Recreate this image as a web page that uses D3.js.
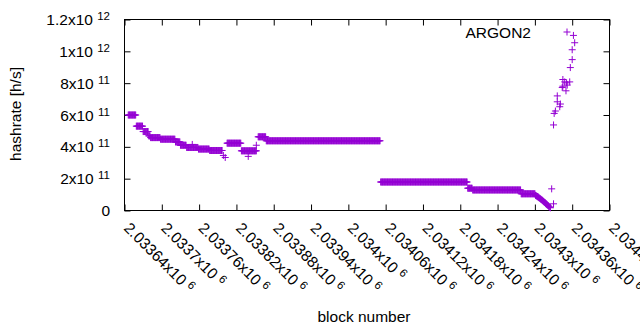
<!DOCTYPE html>
<html><head><meta charset="utf-8">
<script src="https://cdn.jsdelivr.net/npm/d3@7"></script>
<style>
html,body{margin:0;padding:0;background:#fff;}
svg{display:block;font-family:"Liberation Sans",Arial,sans-serif;}
</style></head>
<body><svg id="c" width="640" height="330"></svg>
<script>
// ---- data (block numbers, hashrate in h/s) ----
// runs of consecutive blocks sharing (approximately) the same hashrate
const runStart = [2033646, 2033659, 2033670, 2033679, 2033682, 2033698, 2033722, 2033730, 2033740, 2033759, 2033777, 2033805, 2033828, 2033855, 2033868, 2034052, 2034192, 2034200, 2034278];
const runEnd   = [2033658, 2033669, 2033678, 2033681, 2033697, 2033721, 2033729, 2033739, 2033758, 2033776, 2033797, 2033827, 2033852, 2033867, 2034051, 2034191, 2034199, 2034277, 2034300];
const runValue = [6.0e11, 5.3e11, 4.96e11, 4.69e11, 4.58e11, 4.48e11, 4.31e11, 4.1e11, 3.96e11, 3.86e11, 3.77e11, 4.23e11, 3.75e11, 4.63e11, 4.38e11, 1.79e11, 1.4e11, 1.29e11, 1.05e11];
// descending tail
const tailBlocks = [2034301,2034302,2034303,2034304,2034305,2034306,2034307,2034308,2034309,2034310,2034311,2034312,2034313,2034314,2034315,2034316,2034317,2034318,2034319,2034320,2034321,2034322,2034323,2034324,2034325];
const tailValues = [0.95e11,0.93e11,0.90e11,0.87e11,0.85e11,0.82e11,0.79e11,0.76e11,0.73e11,0.70e11,0.67e11,0.64e11,0.60e11,0.57e11,0.53e11,0.50e11,0.46e11,0.43e11,0.39e11,0.35e11,0.31e11,0.27e11,0.23e11,0.20e11,0.17e11];
// scattered single blocks
const extraBlocks = [2033749, 2033799, 2033802, 2033839, 2033852, 2034362, 2034364, 2034360, 2034360, 2034357, 2034345, 2034348, 2034356, 2034352, 2034344, 2034350, 2034351, 2034345, 2034336, 2034336, 2034341, 2034340, 2034333, 2034331, 2034330, 2034327, 2034330];
const extraValues = [4.15e11, 3.46e11, 3.33e11, 3.4e11, 4.1e11, 1.10e12, 1.054e12, 1.01e12, 9.48e11, 8.98e11, 8.23e11, 8.08e11, 8.08e11, 7.88e11, 7.73e11, 7.52e11, 8.02e11, 7.81e11, 7.2e11, 6.83e11, 6.69e11, 6.52e11, 6.25e11, 6.1e11, 5.375e11, 1.36e11, 0.42e11];

const xTickValues = [2033640,2033700,2033760,2033820,2033880,2033940,2034000,2034060,2034120,2034180,2034240,2034300,2034360,2034420];
const xTickMantissa = ["2.03364","2.0337","2.03376","2.03382","2.03388","2.03394","2.034","2.03406","2.03412","2.03418","2.03424","2.0343","2.03436","2.03442"];
const xTickExp = "6";
const yTickValues = [0, 2e11, 4e11, 6e11, 8e11, 1e12, 1.2e12];
const yTickMantissa = ["0","2","4","6","8","1","1.2"];
const yTickExp = ["","11","11","11","11","12","12"];
const seriesName = "ARGON2";

// ---- build points ----
const points = [];
runStart.forEach((s,i)=>{ for(let b=s;b<=runEnd[i];b++) points.push([b, runValue[i]]); });
tailBlocks.forEach((b,i)=>points.push([b, tailValues[i]]));
extraBlocks.forEach((b,i)=>points.push([b, extraValues[i]]));

const svg = d3.select("#c");
const L=124.5, R=609.5, T=19.5, B=210.5;
const x = d3.scaleLinear().domain([2033640, 2034420]).range([L, R]);
const y = d3.scaleLinear().domain([0, 1.2e12]).range([B, T]);
const color = "#9400d3";
const fs = 15.5, sfs = 11.5;

// axes ticks (inward, mirrored)
const tk = 6;
function axisG(axis, tx, ty){
  const g = svg.append("g").attr("transform",`translate(${tx},${ty})`).call(axis);
  g.select(".domain").remove();
  g.selectAll(".tick line").attr("stroke","#000").attr("stroke-width",1);
  g.selectAll("text").remove();
}
axisG(d3.axisLeft(y).tickValues(yTickValues).tickSize(-tk).tickFormat(""), L, 0);
axisG(d3.axisRight(y).tickValues(yTickValues).tickSize(-tk).tickFormat(""), R, 0);
axisG(d3.axisBottom(x).tickValues(xTickValues).tickSize(-tk).tickFormat(""), 0, B);
axisG(d3.axisTop(x).tickValues(xTickValues).tickSize(-tk).tickFormat(""), 0, T);

svg.append("rect").attr("x",L).attr("y",T).attr("width",R-L).attr("height",B-T)
  .attr("fill","none").attr("stroke","#000").attr("stroke-width",1);

// y tick labels
yTickValues.forEach((v,i)=>{
  const t = svg.append("text").attr("x",110).attr("y",y(v)+5.5)
    .attr("text-anchor","end").attr("font-size",fs).attr("fill","#000");
  if(yTickExp[i]){
    t.append("tspan").text(yTickMantissa[i]+"x10 ");
    t.append("tspan").attr("dy",-5).attr("font-size",sfs).text(yTickExp[i]);
  } else t.text(yTickMantissa[i]);
});

// x tick labels rotated
xTickValues.forEach((v,i)=>{
  const t = svg.append("text").attr("transform",`translate(${x(v)-1.5},229) rotate(45)`)
    .attr("text-anchor","start").attr("font-size",fs).attr("fill","#000");
  t.append("tspan").text(xTickMantissa[i]+"x10 ");
  t.append("tspan").attr("dy",-5).attr("font-size",sfs).text(xTickExp);
});

// axis titles
svg.append("text").attr("transform","translate(21,114) rotate(-90)").attr("text-anchor","middle")
  .attr("font-size",fs).text("hashrate [h/s]");
svg.append("text").attr("x",364).attr("y",322).attr("text-anchor","middle")
  .attr("font-size",fs).text("block number");

// points
const h = 3.5;
const cross = (cx,cy)=>`M${cx-h},${cy}h${2*h}M${cx},${cy-h}v${2*h}`;
svg.append("g").selectAll("path").data(points).join("path")
  .attr("d",d=>cross(x(d[0]), y(d[1])))
  .attr("fill","none").attr("stroke",color).attr("stroke-width",1);

// key
svg.append("text").attr("x",531).attr("y",37.5).attr("text-anchor","end")
  .attr("font-size",fs).text(seriesName);
svg.append("path").attr("d",cross(567,32)).attr("stroke",color).attr("stroke-width",1).attr("fill","none");
</script></body></html>
